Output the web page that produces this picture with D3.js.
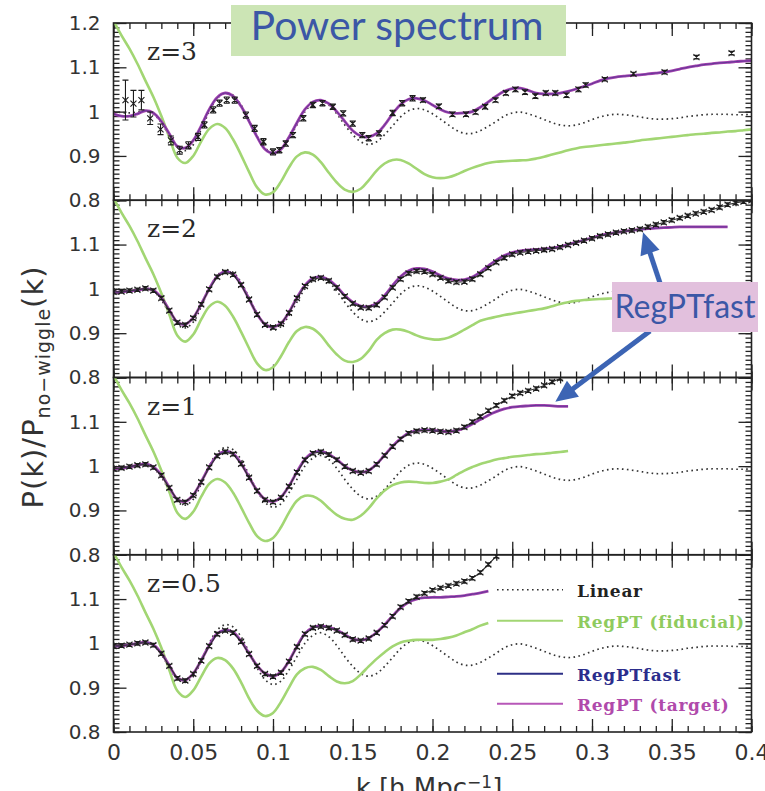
<!DOCTYPE html>
<html><head><meta charset="utf-8">
<script src="https://cdn.jsdelivr.net/npm/d3@7"></script>
<style>html,body{margin:0;padding:0;background:#fff;overflow:hidden}</style>
</head><body>
<svg id="chart" width="765" height="791"></svg>
<script>
// ---------------- DATA ----------------
const panelLabels = ["z=3", "z=2", "z=1", "z=0.5"];
const xTickValues = [0, 0.05, 0.1, 0.15, 0.2, 0.25, 0.3, 0.35, 0.4];
const xTickLabels = ["0", "0.05", "0.1", "0.15", "0.2", "0.25", "0.3", "0.35", "0.4"];
const yTickValues = [0.8, 0.9, 1.0, 1.1, 1.2];
const yTickLabels = ["0.8", "0.9", "1", "1.1", "1.2"];
const legendLabels = ["Linear", "RegPT (fiducial)", "RegPTfast", "RegPT (target)"];

const kGrid = [
 0,0.005,0.01,0.015,0.02,0.025,0.03,0.035,0.04,0.045,
 0.05,0.055,0.06,0.065,0.07,0.075,0.08,0.085,0.09,0.095,
 0.1,0.105,0.11,0.115,0.12,0.125,0.13,0.135,0.14,0.145,
 0.15,0.155,0.16,0.165,0.17,0.175,0.18,0.185,0.19,0.195,
 0.2,0.205,0.21,0.215,0.22,0.225,0.23,0.235,0.24,0.245,
 0.25,0.255,0.26,0.265,0.27,0.275,0.28,0.285,0.29,0.295,
 0.3,0.305,0.31,0.315,0.32,0.325,0.33,0.335,0.34,0.345,
 0.35,0.355,0.36,0.365,0.37,0.375,0.38,0.385,0.39,0.395,
 0.4];

// Linear theory (same in all panels)
const linearRatio = [
 1.000,0.998,0.997,0.999,1.002,0.995,0.975,0.945,0.920,0.912,
 0.925,0.960,1.000,1.030,1.042,1.037,1.015,0.980,0.945,0.918,
 0.907,0.915,0.940,0.970,1.000,1.018,1.024,1.015,0.995,0.970,
 0.948,0.932,0.926,0.932,0.948,0.968,0.988,1.002,1.007,1.004,
 0.995,0.983,0.970,0.958,0.951,0.951,0.957,0.967,0.978,0.990,
 0.997,0.999,0.995,0.989,0.982,0.975,0.970,0.968,0.970,0.975,
 0.982,0.988,0.992,0.994,0.993,0.991,0.988,0.985,0.983,0.983,
 0.984,0.986,0.989,0.991,0.993,0.994,0.994,0.994,0.993,0.993,
 0.994];

// RegPT (fiducial)
const fidZ3 = [
 1.205,1.172,1.142,1.108,1.070,1.033,0.990,0.942,0.896,0.884,
 0.900,0.933,0.961,0.972,0.963,0.937,0.902,0.864,0.829,0.813,
 0.818,0.842,0.874,0.899,0.908,0.903,0.886,0.862,0.840,0.824,
 0.819,0.826,0.845,0.867,0.883,0.891,0.891,0.883,0.871,0.859,
 0.852,0.850,0.852,0.858,0.866,0.873,0.879,0.884,0.887,0.888,
 0.889,0.890,0.891,0.894,0.898,0.903,0.908,0.913,0.917,0.920,
 0.922,0.924,0.926,0.928,0.930,0.932,0.935,0.937,0.939,0.941,
 0.943,0.945,0.947,0.949,0.950,0.952,0.953,0.955,0.956,0.958,
 0.960];
const fidZ2 = [
 1.205,1.172,1.142,1.108,1.070,1.033,0.990,0.942,0.895,0.881,
 0.897,0.931,0.960,0.971,0.962,0.937,0.903,0.866,0.832,0.817,
 0.823,0.848,0.880,0.905,0.914,0.910,0.895,0.872,0.852,0.838,
 0.835,0.842,0.860,0.885,0.900,0.908,0.908,0.903,0.895,0.889,
 0.886,0.886,0.890,0.898,0.908,0.918,0.928,0.933,0.937,0.941,
 0.944,0.947,0.950,0.953,0.956,0.961,0.966,0.970,0.973,0.975,
 0.976,0.977,0.978,0.979,0.979,0.980,0.980];
const fidZ1 = [
 1.205,1.172,1.142,1.108,1.070,1.033,0.990,0.942,0.895,0.881,
 0.897,0.931,0.960,0.971,0.963,0.940,0.907,0.872,0.842,0.831,
 0.838,0.862,0.895,0.922,0.933,0.932,0.922,0.905,0.890,0.881,
 0.879,0.888,0.905,0.927,0.945,0.957,0.963,0.965,0.964,0.962,
 0.962,0.965,0.970,0.980,0.990,0.998,1.005,1.010,1.015,1.018,
 1.021,1.023,1.025,1.027,1.028,1.030,1.032,1.034];
const fidZ05 = [
 1.205,1.172,1.142,1.108,1.070,1.033,0.990,0.940,0.893,0.879,
 0.894,0.925,0.955,0.967,0.962,0.943,0.912,0.876,0.848,0.836,
 0.843,0.868,0.900,0.930,0.944,0.947,0.940,0.926,0.914,0.910,
 0.915,0.930,0.948,0.965,0.980,0.993,1.002,1.006,1.008,1.008,
 1.008,1.010,1.013,1.018,1.025,1.032,1.040,1.046];

// RegPT (target) ~ RegPTfast
const tgtZ3 = [
 0.995,0.990,0.990,0.995,1.002,0.997,0.978,0.950,0.922,0.918,
 0.935,0.968,1.005,1.032,1.042,1.035,1.012,0.978,0.943,0.915,
 0.906,0.915,0.942,0.975,1.005,1.022,1.026,1.018,1.000,0.978,
 0.957,0.945,0.943,0.951,0.970,0.995,1.016,1.028,1.030,1.025,
 1.015,1.005,0.998,0.996,0.997,1.000,1.010,1.022,1.035,1.046,
 1.052,1.053,1.048,1.042,1.040,1.040,1.042,1.046,1.051,1.057,
 1.063,1.070,1.075,1.078,1.080,1.082,1.083,1.085,1.087,1.089,
 1.092,1.096,1.100,1.103,1.106,1.108,1.110,1.111,1.113,1.114,
 1.115];
const tgtZ2 = [
 0.993,0.993,0.995,0.997,1.000,0.997,0.980,0.952,0.925,0.920,
 0.935,0.966,1.000,1.028,1.039,1.033,1.010,0.977,0.943,0.920,
 0.914,0.922,0.947,0.980,1.008,1.024,1.027,1.020,1.005,0.985,
 0.970,0.961,0.960,0.967,0.985,1.008,1.028,1.041,1.046,1.045,
 1.039,1.030,1.023,1.020,1.021,1.027,1.038,1.052,1.065,1.075,
 1.082,1.086,1.088,1.089,1.090,1.092,1.095,1.100,1.105,1.110,
 1.115,1.120,1.124,1.127,1.130,1.132,1.134,1.136,1.137,1.138,
 1.139,1.140,1.140,1.140,1.140,1.140,1.140,1.140];
const tgtZ1 = [
 0.994,0.995,0.998,1.002,1.005,0.998,0.980,0.952,0.925,0.920,
 0.935,0.965,0.998,1.024,1.033,1.028,1.006,0.975,0.945,0.925,
 0.920,0.930,0.955,0.987,1.015,1.030,1.033,1.027,1.015,1.000,
 0.990,0.986,0.990,1.005,1.025,1.045,1.062,1.075,1.080,1.082,
 1.081,1.079,1.078,1.080,1.086,1.095,1.105,1.115,1.123,1.129,
 1.133,1.135,1.136,1.137,1.137,1.136,1.135,1.135];
const tgtZ05 = [
 0.994,0.994,0.997,1.000,1.003,0.997,0.978,0.950,0.922,0.917,
 0.932,0.962,0.995,1.022,1.030,1.025,1.005,0.977,0.950,0.932,
 0.926,0.935,0.960,0.993,1.022,1.036,1.039,1.036,1.030,1.020,
 1.010,1.007,1.012,1.025,1.042,1.062,1.080,1.093,1.100,1.103,
 1.104,1.104,1.105,1.106,1.108,1.111,1.114,1.118];

// N-body data
const dataK3 = [
 0.0075,0.0125,0.0175,0.023,0.0295,0.036,0.0415,0.047,0.053,0.057,
 0.0625,0.0665,0.071,0.076,0.083,0.0885,0.094,0.100,0.104,0.108,
 0.1125,0.119,0.125,0.131,0.1375,0.144,0.150,0.156,0.160,0.1665,
 0.175,0.181,0.1875,0.194,0.204,0.2125,0.221,0.227,0.233,0.2395,
 0.246,0.252,0.258,0.2645,0.271,0.277,0.284,0.2915,0.296,0.308,
 0.326,0.3455,0.3655,0.3875];
const dataV3 = [
 1.026,1.018,1.026,0.985,0.960,0.935,0.913,0.924,0.943,0.970,
 1.004,1.019,1.026,1.026,0.992,0.962,0.932,0.909,0.913,0.928,
 0.947,0.985,1.015,1.019,1.011,0.996,0.973,0.947,0.940,0.951,
 0.997,1.019,1.030,1.026,1.012,0.994,0.994,0.999,1.011,1.026,
 1.042,1.050,1.044,1.035,1.042,1.042,1.037,1.050,1.060,1.073,
 1.085,1.089,1.123,1.132];
const dataE3 = [
 0.045,0.030,0.022,0.014,0.012,0.010,0.009,0.008,0.008,0.007,
 0.007,0.007,0.007,0.007,0.007,0.007,0.007,0.007,0.006,0.006,
 0.006,0.006,0.006,0.006,0.006,0.006,0.006,0.006,0.006,0.006,
 0.006,0.006,0.006,0.005,0.005,0.005,0.005,0.005,0.005,0.005,
 0.005,0.005,0.005,0.005,0.005,0.005,0.005,0.005,0.005,0.004,
 0.004,0.004,0.004,0.004];
const dataV2 = [
 0.993,0.994,0.996,0.998,1.001,0.996,0.979,0.951,0.924,0.919,
 0.934,0.965,0.999,1.027,1.038,1.032,1.009,0.976,0.942,0.919,
 0.913,0.921,0.946,0.979,1.006,1.022,1.025,1.018,1.003,0.983,
 0.967,0.958,0.957,0.964,0.981,1.003,1.022,1.035,1.040,1.039,
 1.033,1.025,1.018,1.015,1.016,1.022,1.033,1.047,1.060,1.070,
 1.078,1.082,1.084,1.086,1.088,1.090,1.094,1.099,1.104,1.109,
 1.114,1.119,1.123,1.127,1.130,1.132,1.135,1.140,1.145,1.150,
 1.155,1.160,1.165,1.170,1.174,1.178,1.184,1.190,1.194,1.197,
 1.200];
const dataV1 = [
 0.994,0.996,0.999,1.002,1.004,0.997,0.979,0.951,0.924,0.919,
 0.934,0.964,0.997,1.023,1.032,1.027,1.005,0.974,0.944,0.924,
 0.919,0.929,0.954,0.986,1.014,1.029,1.032,1.026,1.014,0.999,
 0.989,0.985,0.989,1.004,1.024,1.044,1.061,1.074,1.079,1.081,
 1.080,1.078,1.077,1.080,1.088,1.100,1.112,1.125,1.137,1.148,
 1.158,1.165,1.170,1.175,1.182,1.190,1.198];
const dataV05 = [
 0.994,0.995,0.997,1.000,1.002,0.996,0.977,0.949,0.921,0.916,
 0.931,0.961,0.994,1.021,1.029,1.024,1.004,0.976,0.949,0.931,
 0.925,0.934,0.959,0.992,1.021,1.035,1.038,1.035,1.029,1.019,
 1.009,1.006,1.011,1.024,1.041,1.061,1.082,1.095,1.105,1.113,
 1.120,1.125,1.130,1.135,1.140,1.147,1.160,1.178,1.197];
const denseErr = 0.004;

// ---------------- DRAW ----------------
const svg = d3.select("#chart");
const L = 113.5, R = 751.5, T0 = 23, PH = 177.25;
const x = d3.scaleLinear().domain([0, 0.4]).range([L, R]);
const COL = {green: "#a2d673", purple: "#a341ad", navy: "#2d2f86", ink: "#222", dot: "#333", text: "#333"};
const xMinor = d3.range(0, 41).map(i => i / 100);
const yMinor = d3.range(80, 121).map(i => i / 100);

const panels = [
  {fid: fidZ3, tgt: tgtZ3, dk: dataK3, dv: dataV3, de: dataE3, dense: false},
  {fid: fidZ2, tgt: tgtZ2, dk: kGrid.slice(0, dataV2.length), dv: dataV2, de: dataV2.map(() => denseErr), dense: true},
  {fid: fidZ1, tgt: tgtZ1, dk: kGrid.slice(0, dataV1.length), dv: dataV1, de: dataV1.map(() => denseErr), dense: true},
  {fid: fidZ05, tgt: tgtZ05, dk: kGrid.slice(0, dataV05.length), dv: dataV05, de: dataV05.map(() => denseErr), dense: true}
];
const defs = svg.append("defs");
const yScales = [];

panels.forEach((p, i) => {
  const top = T0 + i * PH, bot = top + PH;
  const y = d3.scaleLinear().domain([0.8, 1.2]).range([bot, top]);
  yScales.push(y);
  defs.append("clipPath").attr("id", "clip" + i).append("rect")
    .attr("x", L).attr("y", top).attr("width", R - L).attr("height", PH);
  const g = svg.append("g");
  const ax = (axis, tx, ty) => g.append("g").attr("transform", `translate(${tx},${ty})`)
      .attr("color", COL.ink).call(axis)
      .call(s => s.select(".domain").remove())
      .call(s => s.selectAll("line").attr("stroke-width", 1.3));
  // x ticks (top & bottom of each panel, inward)
  ax(d3.axisTop(x).tickValues(xTickValues).tickSize(-13).tickFormat(""), 0, top);
  ax(d3.axisTop(x).tickValues(xMinor).tickSize(-6).tickFormat(""), 0, top);
  const xb = ax(d3.axisBottom(x).tickValues(xTickValues).tickSize(-13).tickPadding(12)
      .tickFormat((d, j) => i === 3 ? xTickLabels[j] : ""), 0, bot);
  xb.selectAll("text").style("font-family", "DejaVu Sans").style("font-size", "22px").attr("fill", COL.text);
  ax(d3.axisBottom(x).tickValues(xMinor).tickSize(-6).tickFormat(""), 0, bot);
  // y ticks
  const yl = ax(d3.axisLeft(y).tickValues(yTickValues).tickSize(-13).tickPadding(13)
      .tickFormat((d, j) => (j === 4 && i > 0) ? "" : yTickLabels[j]), L, 0);
  yl.selectAll("text").style("font-family", "DejaVu Sans").style("font-size", "20px").attr("fill", COL.text);
  ax(d3.axisLeft(y).tickValues(yMinor).tickSize(-6).tickFormat(""), L, 0);
  ax(d3.axisRight(y).tickValues(yTickValues).tickSize(-13).tickFormat(""), R, 0);
  ax(d3.axisRight(y).tickValues(yMinor).tickSize(-6).tickFormat(""), R, 0);

  const plot = g.append("g").attr("clip-path", `url(#clip${i})`);
  const line = d3.line().x(d => x(d[0])).y(d => y(d[1])).curve(d3.curveCatmullRom.alpha(0.5));
  const pts = arr => arr.map((v, j) => [kGrid[j], v]);

  plot.append("path").attr("d", line(pts(linearRatio))).attr("fill", "none")
    .attr("stroke", COL.dot).attr("stroke-width", 1.7).attr("stroke-dasharray", "1.6,3.4");
  plot.append("path").attr("d", line(pts(p.fid))).attr("fill", "none")
    .attr("stroke", COL.green).attr("stroke-width", 2.6);
  plot.append("path").attr("d", line(pts(p.tgt))).attr("fill", "none")
    .attr("stroke", COL.purple).attr("stroke-width", 2.8);
  plot.append("path").attr("d", line(pts(p.tgt))).attr("fill", "none")
    .attr("stroke", COL.navy).attr("stroke-width", 1).attr("opacity", 0.55);

  const dpts = p.dk.map((k, j) => ({k, v: p.dv[j], e: p.de[j]}));
  if (p.dense) {
    plot.append("path").attr("d", d3.line().x(d => x(d.k)).y(d => y(d.v))(dpts))
      .attr("fill", "none").attr("stroke", "#333").attr("stroke-width", 1.1);
  }
  const mk = plot.append("g").attr("stroke", "#1c1c1c").attr("stroke-width", 1.1).attr("fill", "none");
  dpts.forEach(d => {
    const cx = x(d.k), cy = y(d.v), y1 = y(d.v + d.e), y2 = y(d.v - d.e);
    const s = 3;
    mk.append("path").attr("d",
      `M${cx - s},${cy - s}L${cx + s},${cy + s}M${cx - s},${cy + s}L${cx + s},${cy - s}` +
      `M${cx},${y1}L${cx},${y2}M${cx - 3},${y1}L${cx + 3},${y1}M${cx - 3},${y2}L${cx + 3},${y2}`);
  });

  g.append("rect").attr("x", L).attr("y", top).attr("width", R - L).attr("height", PH)
    .attr("fill", "none").attr("stroke", COL.ink).attr("stroke-width", 1.6);
  g.append("text").attr("x", 147).attr("y", top + 37).text(panelLabels[i])
    .style("font-family", "DejaVu Serif").style("font-size", "25px").attr("fill", "#2a2a2a");
});

// Axis titles
const ylab = svg.append("text").attr("transform", "translate(43,387) rotate(-90)")
  .attr("text-anchor", "middle").style("font-family", "DejaVu Sans").style("font-size", "29px")
  .style("letter-spacing", "1px").attr("fill", COL.text);
ylab.append("tspan").text("P(k)/P");
ylab.append("tspan").attr("dy", 7).style("font-size", "19px").text("no\u2212wiggle");
ylab.append("tspan").attr("dy", -7).text("(k)");

const xlab = svg.append("text").attr("x", 429).attr("y", 797).attr("text-anchor", "middle")
  .style("font-family", "DejaVu Sans").style("font-size", "26px").attr("fill", COL.text);
xlab.append("tspan").text("k [h Mpc");
xlab.append("tspan").attr("dy", -9).style("font-size", "17px").text("\u22121");
xlab.append("tspan").attr("dy", 9).text("]");

// Legend (bottom panel)
const legTop = T0 + 3 * PH;
const leg = [
  {y: legTop + 35, color: "#333", dash: "1.6,3.4", text: legendLabels[0], tc: "#222"},
  {y: legTop + 66, color: COL.green, dash: null, text: legendLabels[1], tc: "#8fcb5e"},
  {y: legTop + 119, color: COL.navy, dash: null, text: legendLabels[2], tc: "#2b2d8c"},
  {y: legTop + 149, color: "#b757b8", dash: null, text: legendLabels[3], tc: "#b04aab"}
];
leg.forEach(l => {
  svg.append("line").attr("x1", 497).attr("x2", 563).attr("y1", l.y).attr("y2", l.y)
    .attr("stroke", l.color).attr("stroke-width", l.dash ? 1.7 : 2).attr("stroke-dasharray", l.dash);
  svg.append("text").attr("x", 577).attr("y", l.y + 7).text(l.text)
    .style("font-family", "DejaVu Serif").style("font-weight", "bold").style("font-size", "17px")
    .style("letter-spacing", "0.7px").attr("fill", l.tc);
});

// Title box
svg.append("rect").attr("x", 231).attr("y", 5).attr("width", 335).attr("height", 51).attr("fill", "#cce5b5");
svg.append("text").attr("x", 397).attr("y", 40).attr("text-anchor", "middle").text("Power spectrum")
  .style("font-family", "Lato").style("font-size", "41px").attr("fill", "#3b57a6");

// RegPTfast callout with arrows
const arrowCol = "#3c64b4";
function arrow(x1, y1, x2, y2) {
  const dx = x2 - x1, dy = y2 - y1, len = Math.hypot(dx, dy), ux = dx / len, uy = dy / len;
  const hl = 22, hw = 10;
  const bx = x2 - ux * hl, by = y2 - uy * hl;
  svg.append("line").attr("x1", x1).attr("y1", y1).attr("x2", bx + ux * 2).attr("y2", by + uy * 2)
    .attr("stroke", arrowCol).attr("stroke-width", 5);
  svg.append("path").attr("d", `M${x2},${y2}L${bx - uy * hw},${by + ux * hw}L${bx + uy * hw},${by - ux * hw}Z`)
    .attr("fill", arrowCol);
}
arrow(660, 283, x(0.332), yScales[1](1.128));
arrow(650, 331, x(0.277), yScales[2](1.145));
svg.append("rect").attr("x", 612).attr("y", 282).attr("width", 146).attr("height", 50).attr("fill", "#e2c0dd");
svg.append("text").attr("x", 685).attr("y", 318).attr("text-anchor", "middle").text("RegPTfast")
  .style("font-family", "Lato").style("font-size", "32px").attr("fill", "#3b57a6");
</script>
</body></html>
